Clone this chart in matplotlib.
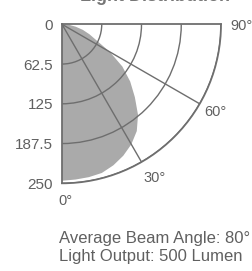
import numpy as np
import matplotlib
matplotlib.use("Agg")
import matplotlib.pyplot as plt
import matplotlib.transforms as mtransforms

# ---- data ----
angles_deg = [0, 5, 10, 15, 20, 25, 30, 35, 40, 45, 50, 55, 60, 65, 70, 75, 80, 85, 90]
intensity = [246, 245, 244, 242, 236, 228, 218, 205, 186, 162, 140, 116, 87, 60, 46, 34, 22, 12, 0]
r_ticks = [0, 62.5, 125, 187.5, 250]
r_tick_labels = ["0", "62.5", "125", "187.5", "250"]
theta_grid = [30, 60]
theta_labels = ["0°", "30°", "60°", "90°"]
theta_label_pos = [0, 30, 60, 90]
title = "Light Distribution"
info_lines = ["Average Beam Angle: 80°", "Light Output: 500 Lumen"]

font = ["Liberation Sans", "DejaVu Sans"]

TXT = "#606060"
LINE = "#6e6e6e"
FILL = "#aaaaaa"

W, H = 252, 271
fig = plt.figure(figsize=(W / 100, H / 100), dpi=100)
cx, cy, R = 62, 24.3, 159
ax = fig.add_axes([cx / W, (H - cy - R) / H, R / W, R / H], projection="polar")
ax.set_theta_zero_location("S")
ax.set_theta_direction(1)
ax.set_thetamin(0)
ax.set_thetamax(90)
ax.set_rlim(0, 250)
ax.set_facecolor("white")

th = np.deg2rad(angles_deg)
ax.fill(np.concatenate([[0], th, [0]]), np.concatenate([[0], intensity, [0]]),
        color=FILL, lw=0, zorder=1)

ax.set_rticks(r_ticks[1:])
ax.set_thetagrids(theta_grid)
ax.set_yticklabels([])
ax.set_xticklabels([])
ax.grid(True, color=LINE, lw=1.0, zorder=2)
ax.tick_params(length=0)
for name, sp in ax.spines.items():
    sp.set_color(LINE)
    sp.set_linewidth(1.3)
    sp.set_zorder(3)

# radial labels along the 0° edge
for r, lab in zip(r_ticks, r_tick_labels):
    off = mtransforms.ScaledTranslation(-9 / 100, -1.5 / 100, fig.dpi_scale_trans)
    ax.text(0, r, lab, transform=ax.transData + off, ha="right", va="center",
            fontsize=11, color=TXT, family=font, clip_on=False)

# angle labels
offs = {0: (-4, -18), 30: (2, -16), 60: (5, -8), 90: (9, -2)}
for a, lab in zip(theta_label_pos, theta_labels):
    dx, dy = offs[a]
    off = mtransforms.ScaledTranslation(dx / 100, dy / 100, fig.dpi_scale_trans)
    ax.text(np.deg2rad(a), 250, lab, transform=ax.transData + off, ha="left", va="center",
            fontsize=10.5, color=TXT, family=font, clip_on=False)

# title, mostly above the top edge as in the reference
fig.text(155 / W, 1 - 1.2 / H, title, ha="center", va="baseline", fontsize=13,
         fontweight="bold", color="#777777", family=font)
fig.text(59 / W, 1 - 243 / H, info_lines[0], ha="left", va="baseline", fontsize=12,
         color=TXT, family=font)
fig.text(59 / W, 1 - 260.5 / H, info_lines[1], ha="left", va="baseline", fontsize=12,
         color=TXT, family=font)

fig.savefig("out.png", dpi=100)
